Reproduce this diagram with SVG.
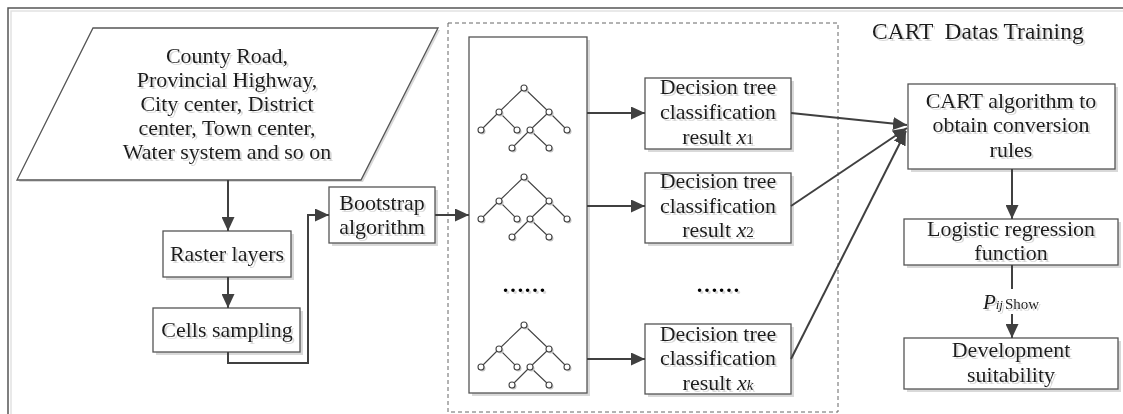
<svg xmlns="http://www.w3.org/2000/svg" width="1123" height="414" viewBox="0 0 1123 414">
<defs>
<style>
.box{fill:#fff;stroke:#555;stroke-width:1.3}
.sh{fill:#d9d9d9}
.t{font-family:"Liberation Serif","Times New Roman",serif;font-size:22px;fill:#1a1a1a;text-anchor:middle;filter:url(#ts)}
.c{fill:none;stroke:#404040;stroke-width:2}
.tl{stroke:#444;stroke-width:1.1}
.nd{fill:#fff;stroke:#444;stroke-width:1.1}
.nds{fill:#c4c4c4}
.it{font-style:italic}
</style>
<filter id="ts" x="-10%" y="-20%" width="120%" height="150%">
<feDropShadow dx="2" dy="2" stdDeviation="0.5" flood-color="#bdbdbd" flood-opacity="0.6"/>
</filter>
<marker id="ah" markerUnits="userSpaceOnUse" markerWidth="14" markerHeight="13" refX="14" refY="6.5" orient="auto">
<path d="M0,0 L14,6.5 L0,13 z" fill="#404040"/>
</marker>
<g id="tree">
<path class="tl" d="M0,0 L-25,24 M0,0 L25,24 M-25,24 L-43,42 M-25,24 L-7,42 M25,24 L6,42 M25,24 L43,42 M6,42 L-12,60 M6,42 L25,60"/>
<g class="nds">
<circle cx="1.5" cy="1.5" r="3"/><circle cx="-23.5" cy="25.5" r="3"/><circle cx="26.5" cy="25.5" r="3"/>
<circle cx="-41.5" cy="43.5" r="3"/><circle cx="-5.5" cy="43.5" r="3"/><circle cx="7.5" cy="43.5" r="3"/><circle cx="44.5" cy="43.5" r="3"/>
<circle cx="-10.5" cy="61.5" r="3"/><circle cx="26.5" cy="61.5" r="3"/>
</g>
<g class="nd">
<circle cx="0" cy="0" r="3"/><circle cx="-25" cy="24" r="3"/><circle cx="25" cy="24" r="3"/>
<circle cx="-43" cy="42" r="3"/><circle cx="-7" cy="42" r="3"/><circle cx="6" cy="42" r="3"/><circle cx="43" cy="42" r="3"/>
<circle cx="-12" cy="60" r="3"/><circle cx="25" cy="60" r="3"/>
</g>
</g>
</defs>

<rect width="1123" height="414" fill="#fff"/>

<g id="frame">
<path d="M11,414 V11 H1123" fill="none" stroke="#e2e2e2" stroke-width="1.5"/>
<path d="M8,414 V8 H1123" fill="none" stroke="#555" stroke-width="1.5"/>
</g>

<g id="cart-training">
<rect x="448" y="23" width="390" height="389" fill="none" stroke="#666" stroke-width="1" stroke-dasharray="4,3"/>
<text class="t" x="872" y="39" style="text-anchor:start;font-size:23.5px" xml:space="preserve">CART  Datas Training</text>
</g>

<g id="input-data">
<polygon class="sh" points="95,30 440,30 363,182 19,182"/>
<polygon class="box" points="93,28 438,28 361,180 17,180"/>
<text class="t" x="227" y="63">County Road,</text>
<text class="t" x="227" y="87">Provincial Highway,</text>
<text class="t" x="227" y="111">City center, District</text>
<text class="t" x="227" y="135">center, Town center,</text>
<text class="t" x="227" y="159">Water system and so on</text>
</g>

<g id="raster-layers">
<rect class="sh" x="166" y="234" width="128" height="46"/>
<rect class="box" x="163" y="231" width="128" height="46"/>
<text class="t" x="227" y="261">Raster layers</text>
</g>

<g id="cells-sampling">
<rect class="sh" x="156" y="311" width="147" height="44"/>
<rect class="box" x="153" y="308" width="147" height="44"/>
<text class="t" x="227" y="337">Cells sampling</text>
</g>

<g id="bootstrap">
<rect class="sh" x="332" y="190" width="106" height="56"/>
<rect class="box" x="329" y="187" width="106" height="56"/>
<text class="t" x="382" y="210">Bootstrap</text>
<text class="t" x="382" y="234">algorithm</text>
</g>

<g id="trees">
<rect class="sh" x="472" y="40" width="118" height="356"/>
<rect class="box" x="469" y="37" width="118" height="356"/>
<use href="#tree" x="524" y="88"/>
<use href="#tree" x="524" y="177"/>
<use href="#tree" x="524" y="325"/>
<text class="t" x="524" y="292" style="fill:#000;font-weight:bold">……</text>
</g>

<g id="decision-1">
<rect class="sh" x="648" y="81" width="146" height="71"/>
<rect class="box" x="645" y="78" width="146" height="71"/>
<text class="t" x="718" y="94">Decision tree</text>
<text class="t" x="718" y="119">classification</text>
<text class="t" x="718" y="144">result <tspan class="it">x</tspan><tspan font-size="15">1</tspan></text>
</g>

<g id="decision-2">
<rect class="sh" x="648" y="176" width="146" height="70"/>
<rect class="box" x="645" y="173" width="146" height="70"/>
<text class="t" x="718" y="188">Decision tree</text>
<text class="t" x="718" y="213">classification</text>
<text class="t" x="718" y="237">result <tspan class="it">x</tspan><tspan font-size="15">2</tspan></text>
</g>

<text class="t" x="718" y="292" style="fill:#000;font-weight:bold">……</text>

<g id="decision-k">
<rect class="sh" x="648" y="327" width="146" height="70"/>
<rect class="box" x="645" y="324" width="146" height="70"/>
<text class="t" x="718" y="341">Decision tree</text>
<text class="t" x="718" y="365">classification</text>
<text class="t" x="718" y="390">result <tspan class="it">x</tspan><tspan class="it" font-size="15">k</tspan></text>
</g>

<g id="cart-algorithm">
<rect class="sh" x="911" y="87" width="207" height="85"/>
<rect class="box" x="908" y="84" width="207" height="85"/>
<text class="t" x="1011" y="108">CART algorithm to</text>
<text class="t" x="1011" y="132">obtain conversion</text>
<text class="t" x="1011" y="157">rules</text>
</g>

<g id="logistic">
<rect class="sh" x="907" y="222" width="214" height="46"/>
<rect class="box" x="904" y="219" width="214" height="46"/>
<text class="t" x="1011" y="236">Logistic regression</text>
<text class="t" x="1011" y="260">function</text>
</g>

<g id="development">
<rect class="sh" x="907" y="341" width="214" height="51"/>
<rect class="box" x="904" y="338" width="214" height="51"/>
<text class="t" x="1011" y="357">Development</text>
<text class="t" x="1011" y="382">suitability</text>
</g>

<g id="connectors">
<path class="c" d="M228,180 V231" marker-end="url(#ah)"/>
<path class="c" d="M228,277 V308" marker-end="url(#ah)"/>
<path class="c" d="M228,352 V363 H308 V215 H329" marker-end="url(#ah)"/>
<path class="c" d="M435,215 H469" marker-end="url(#ah)"/>
<path class="c" d="M587,113 H645" marker-end="url(#ah)"/>
<path class="c" d="M587,206 H645" marker-end="url(#ah)"/>
<path class="c" d="M587,359 H645" marker-end="url(#ah)"/>
<path class="c" d="M791,113 L907,125" marker-end="url(#ah)"/>
<path class="c" d="M791,206 L907,128" marker-end="url(#ah)"/>
<path class="c" d="M791,359 L906,131" marker-end="url(#ah)"/>
<path class="c" d="M1012,169 V219" marker-end="url(#ah)"/>
<path class="c" d="M1012,265 V289"/>
<path class="c" d="M1012,314 V338" marker-end="url(#ah)"/>
<text class="t" x="1011" y="309"><tspan class="it" font-size="21">P</tspan><tspan class="it" font-size="13">ij</tspan><tspan font-size="15" dx="2">Show</tspan></text>
</g>
</svg>
